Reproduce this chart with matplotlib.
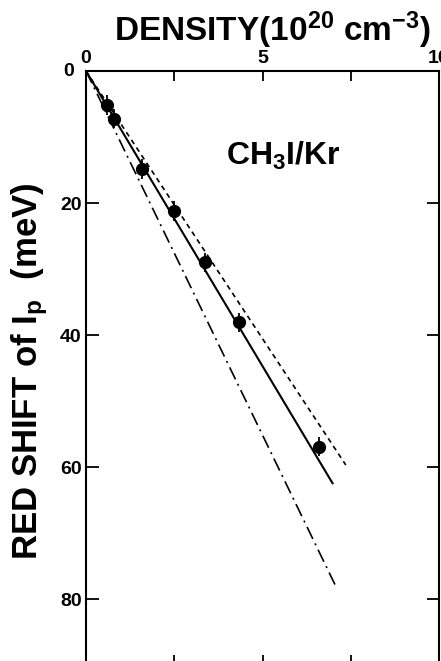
import numpy as np
import matplotlib
matplotlib.use("Agg")
import matplotlib.pyplot as plt

density = [0.6, 0.78, 1.58, 2.5, 3.38, 4.33, 6.6]
red_shift = [5.2, 7.2, 14.9, 21.2, 29.0, 38.1, 56.9]
shift_err = [1.5, 1.5, 1.5, 1.5, 1.5, 1.5, 1.5]

# fitted / model lines (end points)
solid_x = [0.0, 7.0]
solid_y = [0.0, 62.6]
dotted_x = [0.0, 7.36]
dotted_y = [0.0, 59.7]
dashdot_x = [0.0, 7.07]
dashdot_y = [0.0, 78.0]

x_ticks = [0, 5, 10]
x_minor = [2.5, 7.5]
y_ticks = [20, 40, 60, 80]

plt.rcParams['font.family'] = ['Liberation Sans', 'DejaVu Sans']
plt.rcParams['mathtext.default'] = 'regular'

fig = plt.figure(figsize=(4.41, 6.61), dpi=100)
ax = fig.add_axes([86 / 441, -4 / 661, 353 / 441, 594 / 661])

ax.plot(solid_x, solid_y, color='black', lw=1.5, solid_capstyle='butt')
ax.plot(dotted_x, dotted_y, color='black', lw=1.2, linestyle=(0, (3, 2.5)))
ax.plot(dashdot_x, dashdot_y, color='black', lw=1.2, linestyle=(0, (8, 3, 1.2, 3)))
ax.errorbar(density, red_shift, yerr=shift_err, fmt='o', color='black',
            markersize=8.5, elinewidth=1.3, capsize=0)

ax.set_xlim(0, 10)
ax.set_ylim(90, 0)

ax.xaxis.tick_top()
ax.set_xticks(x_ticks)
ax.set_xticks(x_minor, minor=True)
ax.set_yticks(y_ticks)
ax.tick_params(axis='x', which='both', direction='in', length=7.5, width=1.3,
               top=True, bottom=True, labelsize=14, pad=3)
ax.tick_params(axis='y', direction='in', length=9, width=1.3,
               left=True, right=True, labelsize=14, pad=3)
for lbl in ax.get_xticklabels() + ax.get_yticklabels():
    lbl.set_fontweight('bold')
for sp in ax.spines.values():
    sp.set_linewidth(1.5)

ax.text(-0.035, 0, '0', transform=ax.get_yaxis_transform(), ha='right', va='center',
        fontsize=14, fontweight='bold')

fig.text(272 / 441, 1 - 30 / 661, 'DENSITY(10$^{20}$ cm$^{-3}$)', ha='center', va='center',
         fontsize=24, fontweight='bold')
fig.text(30 / 441, 1 - 371 / 661, 'RED SHIFT of I$_{p}$  (meV)', ha='center', va='center',
         rotation=90, fontsize=25, fontweight='bold')
ax.text(5.6, 12.8, 'CH$_{3}$I/Kr', ha='center', va='center', fontsize=23,
        fontweight='bold')

fig.savefig('out.png', dpi=100)
